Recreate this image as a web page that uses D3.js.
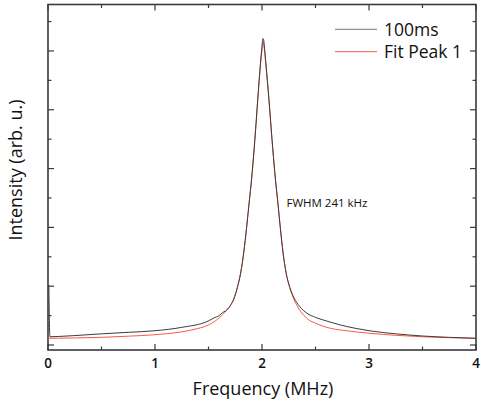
<!DOCTYPE html>
<html>
<head>
<meta charset="utf-8">
<script src="https://cdn.jsdelivr.net/npm/d3@7"></script>
<style>
  body { margin: 0; background: #fff; }
  text { font-family: "Open Sans", "Noto Sans", sans-serif; fill: #111; }
</style>
</head>
<body>
<svg id="chart" width="481" height="403"></svg>
<script>
// measured spectrum (100ms)
const freqData = [0.008, 0.018, 0.1, 0.25, 0.5, 0.75, 1.0, 1.25, 1.5, 1.55, 1.6, 1.63, 1.66, 1.7, 1.736, 1.77, 1.8, 1.83, 1.855, 1.876, 1.908, 1.933, 1.961, 1.985, 2.0, 2.008, 2.014, 2.022, 2.037, 2.064, 2.094, 2.12, 2.152, 2.172, 2.196, 2.226, 2.26, 2.3, 2.35, 2.42, 2.5, 2.6, 2.735, 2.87, 3.0, 3.25, 3.5, 3.75, 4.0];
const intensityData = [1.02, 0.14, 0.145, 0.16, 0.19, 0.215, 0.243, 0.3, 0.41, 0.46, 0.5, 0.55, 0.58, 0.66, 0.78, 0.98, 1.22, 1.58, 1.98, 2.35, 2.93, 3.49, 4.2, 4.78, 5.08, 5.21, 5.2, 5.08, 4.78, 4.2, 3.49, 2.93, 2.35, 1.98, 1.58, 1.22, 0.98, 0.8, 0.66, 0.54, 0.47, 0.41, 0.34, 0.285, 0.243, 0.19, 0.153, 0.13, 0.114];

// Lorentzian fit (Fit Peak 1)
const freqFit = [0, 0.25, 0.5, 0.75, 1.0, 1.236, 1.4, 1.5, 1.6, 1.65, 1.7, 1.736, 1.77, 1.8, 1.83, 1.855, 1.876, 1.908, 1.933, 1.961, 1.985, 2.0, 2.011, 2.022, 2.037, 2.064, 2.094, 2.12, 2.152, 2.172, 2.196, 2.226, 2.26, 2.3, 2.35, 2.436, 2.5, 2.64, 2.8, 3.0, 3.25, 3.5, 3.75, 4.0];
const intensityFit = [0.114, 0.12, 0.13, 0.15, 0.175, 0.22, 0.28, 0.34, 0.46, 0.55, 0.66, 0.78, 0.98, 1.22, 1.58, 1.98, 2.35, 2.92, 3.48, 4.18, 4.74, 5.02, 5.16, 5.02, 4.74, 4.18, 3.48, 2.92, 2.35, 1.98, 1.58, 1.22, 0.97, 0.77, 0.6, 0.43, 0.37, 0.284, 0.24, 0.2, 0.165, 0.14, 0.125, 0.114];

const xTicks = [0, 1, 2, 3, 4];
const legendLabels = ["100ms", "Fit Peak 1"];
const annotation = "FWHM 241 kHz";

const width = 481, height = 403;
const margin = { top: 4.5, right: 5, bottom: 53, left: 48 };
const W = width - margin.left - margin.right;
const H = height - margin.top - margin.bottom;
const AXIS_COLOR = "#3a3a3a";
const colors = ["#3c3c3c", "#ff5545"];

const svg = d3.select("#chart");
const g = svg.append("g").attr("transform", `translate(${margin.left},${margin.top})`);

const x = d3.scaleLinear().domain([0, 4]).range([0, W]);
const y = d3.scaleLinear().domain([-0.085, 5.79]).range([H, 0]);

// lines
const line = d3.line()
  .x((d) => x(d[0]))
  .y((d) => y(d[1]))
  .curve(d3.curveMonotoneX);

const series = [
  d3.zip(freqData, intensityData),
  d3.zip(freqFit, intensityFit),
];

// frame with inward ticks
const xMajor = xTicks;
const xMinor = [0.5, 1.5, 2.5, 3.5];
const yMajor = d3.range(0, 6, 1);
const yMinor = d3.range(0.5, 5.6, 1);
const MAJ = 6, MIN = 3.5;

const ticks = g.append("g").attr("stroke", AXIS_COLOR).attr("stroke-width", 1.2);
xMajor.concat(xMinor).forEach((v) => {
  const len = xMajor.includes(v) ? MAJ : MIN;
  ticks.append("line").attr("x1", x(v)).attr("x2", x(v)).attr("y1", H).attr("y2", H - len);
  ticks.append("line").attr("x1", x(v)).attr("x2", x(v)).attr("y1", 0).attr("y2", len);
});
yMajor.concat(yMinor).forEach((v) => {
  const len = yMajor.includes(v) ? MAJ : MIN;
  ticks.append("line").attr("x1", 0).attr("x2", len).attr("y1", y(v)).attr("y2", y(v));
  ticks.append("line").attr("x1", W).attr("x2", W - len).attr("y1", y(v)).attr("y2", y(v));
});

g.append("rect")
  .attr("x", 0).attr("y", 0)
  .attr("width", W).attr("height", H)
  .attr("fill", "none")
  .attr("stroke", AXIS_COLOR)
  .attr("stroke-width", 1.6);

// draw fit below data
[1, 0].forEach((i) => {
  g.append("path")
    .datum(series[i])
    .attr("d", line)
    .attr("fill", "none")
    .attr("stroke", colors[i])
    .attr("stroke-width", 1);
});

// x tick labels
g.selectAll(".xlab")
  .data(xTicks)
  .join("text")
  .attr("class", "xlab")
  .attr("x", (d) => x(d))
  .attr("y", H + 18)
  .attr("text-anchor", "middle")
  .attr("font-size", 13.5)
  .attr("font-weight", 600)
  .text((d) => d);

// axis titles
g.append("text")
  .attr("x", W / 2 + 1)
  .attr("y", H + 45)
  .attr("text-anchor", "middle")
  .attr("font-size", 18)
  .text("Frequency (MHz)");

g.append("text")
  .attr("transform", `translate(${-26},${170 - margin.top}) rotate(-90)`)
  .attr("text-anchor", "middle")
  .attr("font-size", 18)
  .text("Intensity (arb. u.)");

// legend
const legend = g.append("g").attr("transform", `translate(${335 - margin.left},0)`);
legendLabels.forEach((lab, i) => {
  const ly = 29.3 - margin.top + i * 22.4;
  legend.append("line")
    .attr("x1", 0).attr("x2", 42)
    .attr("y1", ly).attr("y2", ly)
    .attr("stroke", i === 0 ? "#777" : colors[1])
    .attr("stroke-width", 1);
  legend.append("text")
    .attr("x", 49)
    .attr("y", ly + 6.2)
    .attr("font-size", 17.5)
    .text(lab);
});

// annotation
g.append("text")
  .attr("x", 286.5 - margin.left)
  .attr("y", 206.5 - margin.top)
  .attr("font-size", 11.5)
  .text(annotation);
</script>
</body>
</html>
